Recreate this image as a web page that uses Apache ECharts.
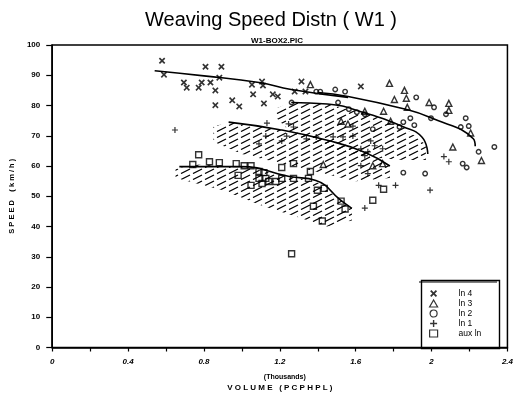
<!DOCTYPE html>
<html><head><meta charset="utf-8">
<script src="https://cdn.jsdelivr.net/npm/echarts@6/dist/echarts.min.js"></script>
<style>html,body{margin:0;padding:0;background:#fff}#c{width:516px;height:397px}</style>
</head><body><div id="c"></div>
<script>
// ---- data (volume in thousands pcphpl, speed km/h) ----
const ln4Pts = [[0.579,94.8],[0.589,90.2],[0.808,92.8],[0.892,92.8],[0.881,89.2],[0.694,87.6],[0.709,85.9],[0.772,85.9],[0.788,87.6],[0.834,87.6],[0.860,85.0],[0.860,80.1],[0.949,81.7],[0.986,79.7],[1.053,86.9],[1.059,83.7],[1.106,87.9],[1.111,86.6],[1.116,80.7],[1.163,83.7],[1.189,83.0],[1.278,84.6],[1.314,87.9],[1.335,84.6],[1.627,86.3]];
const ln3Pts = [[1.361,86.9],[1.778,87.3],[1.857,85.0],[1.804,82.0],[1.867,82.4],[1.872,79.4],[1.987,81.0],[2.091,80.7],[2.091,78.4],[2.206,70.9],[2.112,66.3],[2.263,61.8],[1.747,78.1],[1.523,74.8],[1.559,73.9],[1.648,78.1],[1.429,60.5],[1.690,60.1],[1.742,60.8],[1.784,74.8]];
const ln2Pts = [[1.262,81.0],[1.392,84.6],[1.413,84.6],[1.492,85.3],[1.544,84.6],[1.507,81.0],[1.564,78.8],[1.606,77.8],[1.648,77.1],[1.919,82.7],[2.013,79.4],[2.076,77.1],[2.180,75.8],[2.154,72.9],[2.196,73.2],[1.997,75.8],[1.909,73.5],[1.831,72.9],[1.851,74.5],[1.888,75.8],[2.331,66.3],[2.248,64.7],[2.164,60.8],[2.185,59.5],[1.851,57.8],[1.966,57.5],[1.690,72.2]];
const ln1Pts = [[0.647,71.9],[1.132,74.2],[1.126,69.9],[1.090,67.3],[1.246,73.9],[1.272,72.9],[1.236,69.9],[1.210,68.3],[1.340,69.0],[1.392,69.6],[1.481,69.6],[1.533,69.6],[1.585,69.9],[1.585,73.2],[1.627,65.7],[1.664,64.7],[1.700,66.7],[1.742,65.7],[1.648,63.4],[1.679,68.3],[2.065,63.1],[2.091,61.4],[1.992,52.0],[1.810,53.6],[1.721,53.6],[1.648,46.1],[1.627,60.1],[1.664,57.5]];
const auxPts = [[0.772,63.7],[0.741,60.5],[0.829,61.4],[0.881,61.1],[0.970,60.8],[1.012,60.1],[1.048,60.1],[0.980,56.9],[1.048,53.6],[1.090,58.2],[1.116,57.8],[1.090,55.9],[1.106,54.2],[1.126,55.9],[1.142,54.9],[1.179,54.9],[1.210,55.9],[1.210,59.5],[1.272,60.8],[1.272,55.9],[1.351,55.9],[1.361,58.2],[1.398,52.0],[1.434,52.6],[1.377,46.7],[1.523,48.4],[1.544,45.8],[1.690,48.7],[1.747,52.3],[1.424,41.8],[1.262,31.0]];
// fitted curves
const ln4Fit = [[0.54,91.5],[0.8,89.8],[1.09,87.6],[1.26,85.3],[1.56,82.7]];
const ln3Fit = [[1.40,84.3],[1.56,83.0],[1.86,78.8],[1.99,76.1],[2.22,69.0],[2.23,66.5]];
const ln2Fit = [[1.26,81.0],[1.45,80.5],[1.65,77.5],[1.85,73.0],[1.95,69.5],[1.98,64.0]];
const ln1Fit = [[0.93,74.5],[1.20,72.0],[1.45,68.5],[1.65,64.5],[1.78,60.0]];
const auxFit = [[0.67,59.8],[0.99,59.8],[1.25,56.5],[1.39,55.2],[1.52,48.7],[1.58,46.0]];
// hatched bands (outline points)
const bandA = [[1.18,79],[1.26,81],[1.45,80.5],[1.65,77.5],[1.85,73],[1.97,67],[1.97,62],[1.85,62],[1.65,63],[1.45,66],[1.26,71],[1.18,76]];
const bandB = [[0.85,73],[0.93,74.5],[1.2,72],[1.45,68.5],[1.65,64.5],[1.78,60],[1.78,56],[1.6,55],[1.4,58],[1.2,61],[1.0,64],[0.85,68]];
const bandC = [[0.65,59],[0.75,60.5],[1.0,59.8],[1.25,56.5],[1.39,55],[1.52,48.7],[1.58,46],[1.58,42],[1.45,40],[1.3,43],[1.1,47],[0.9,52],[0.65,56]];
const seriesNames = ['ln 4','ln 3','ln 2','ln 1','aux ln'];
const xTickLabels = ['0','0.4','0.8','1.2','1.6','2','2.4'];

// ---- styling ----
const FONT = 'Liberation Sans';
const xPath = 'path://M0,1.8L1.8,0L5,3.2L8.2,0L10,1.8L6.8,5L10,8.2L8.2,10L5,6.8L1.8,10L0,8.2L3.2,5Z';
const plusPath = 'path://M4,0H6V4H10V6H6V10H4V6H0V4H4Z';

const cv = document.createElement('canvas');
cv.width = 24; cv.height = 6;
const g = cv.getContext('2d');
g.strokeStyle = '#000'; g.lineWidth = 1.3;
g.beginPath(); g.moveTo(1,5.5); g.lineTo(10,1); g.moveTo(13,5.5); g.lineTo(22,1); g.stroke();
const hatch = {image: cv, repeat: 'repeat'};

function bandSeries(band){
  return {type:'custom', data: band, encode:{x:0,y:1}, silent:true, z:1,
    renderItem: function(params, api){
      if (params.dataIndex !== 0) return null;
      const pts = band.map(p => api.coord(p));
      return {type:'polygon', shape:{points: pts}, style:{fill: hatch}};
    }};
}
function fitSeries(d){
  return {type:'line', data:d, smooth:true, symbol:'none', silent:true, z:2,
    lineStyle:{color:'#000', width:1.6}};
}
const hollow = {color:'rgba(0,0,0,0)', borderColor:'#000', borderWidth:1.4};

const chart = echarts.init(document.getElementById('c'), null, {renderer:'canvas'});
chart.setOption({
  animation:false,
  backgroundColor:'#fff',
  title:[{text:'Weaving Speed Distn ( W1 )', left:266, top:5, textAlign:'center',
    textStyle:{fontFamily:FONT, fontSize:20, fontWeight:'normal', color:'#000'}},
    {text:'W1-BOX2.PIC', left:272, top:32, textAlign:'center',
    textStyle:{fontFamily:FONT, fontSize:8, fontWeight:'bold', color:'#000'}}],
  grid:{left:51, right:7, top:45, bottom:46, show:true, borderColor:'#000', borderWidth:1.5},
  xAxis:{type:'value', min:0, max:2.4, interval:0.2,
    name:'{a|(Thousands)}\n{b|V O L U M E   ( P C P H P L )}', nameLocation:'middle', nameGap:25,
    nameTextStyle:{rich:{a:{fontFamily:FONT,fontSize:7,fontWeight:'bold',color:'#000',lineHeight:10,padding:[0,0,0,10]},
      b:{fontFamily:FONT,fontSize:8,fontWeight:'bold',color:'#000',lineHeight:11}}},
    axisLine:{lineStyle:{color:'#000', width:1.5}},
    axisTick:{length:4, lineStyle:{color:'#000', width:1.2}},
    splitLine:{show:false},
    axisLabel:{margin:10, fontFamily:FONT, fontSize:8, fontWeight:'bold', fontStyle:'italic', color:'#000',
      formatter: v => { const k = Math.round(v*10); return k % 4 === 0 ? xTickLabels[k/4] : ''; }}},
  yAxis:{type:'value', min:0, max:100, interval:10,
    name:'S P E E D    ( k m / h )', nameLocation:'middle', nameGap:33, nameRotate:90,
    nameTextStyle:{fontFamily:FONT, fontSize:7.5, fontWeight:'bold', color:'#000'},
    axisLine:{show:true, lineStyle:{color:'#000', width:1.5}},
    axisTick:{show:true, length:6, lineStyle:{color:'#000', width:1.2}},
    splitLine:{show:false},
    axisLabel:{margin:12, fontFamily:FONT, fontSize:8, fontWeight:'bold', color:'#000'}},
  legend:{data:seriesNames, orient:'vertical', left:429, top:289, padding:0, itemWidth:8, itemHeight:7, itemGap:1,
    itemStyle:{borderWidth:1.2},
    textStyle:{fontFamily:FONT, fontSize:8.5, lineHeight:7, color:'#000', padding:[0,0,0,16]}, selectedMode:false},
  graphic:[
    {type:'rect', left:419, top:278, shape:{width:78, height:68}, style:{fill:'none', stroke:'#000', lineWidth:1.4}, z:10},
    {type:'line', shape:{x1:419, y1:282, x2:497, y2:282}, style:{stroke:'#000', lineWidth:1.2}, z:10}
  ],
  series:[
    bandSeries(bandA), bandSeries(bandB), bandSeries(bandC),
    fitSeries(ln4Fit), fitSeries(ln3Fit), fitSeries(ln2Fit), fitSeries(ln1Fit), fitSeries(auxFit),
    {name:'ln 4', type:'scatter', data:ln4Pts, symbol:xPath, symbolSize:6.5, itemStyle:{color:'#000'}, z:5},
    {name:'ln 3', type:'scatter', data:ln3Pts, symbol:'triangle', symbolSize:6, itemStyle:hollow, z:5},
    {name:'ln 2', type:'scatter', data:ln2Pts, symbol:'circle', symbolSize:4.5, itemStyle:hollow, z:5},
    {name:'ln 1', type:'scatter', data:ln1Pts, symbol:plusPath, symbolSize:6, itemStyle:{color:'#000'}, z:5},
    {name:'aux ln', type:'scatter', data:auxPts, symbol:'rect', symbolSize:6, itemStyle:hollow, z:5}
  ]
});
</script></body></html>
